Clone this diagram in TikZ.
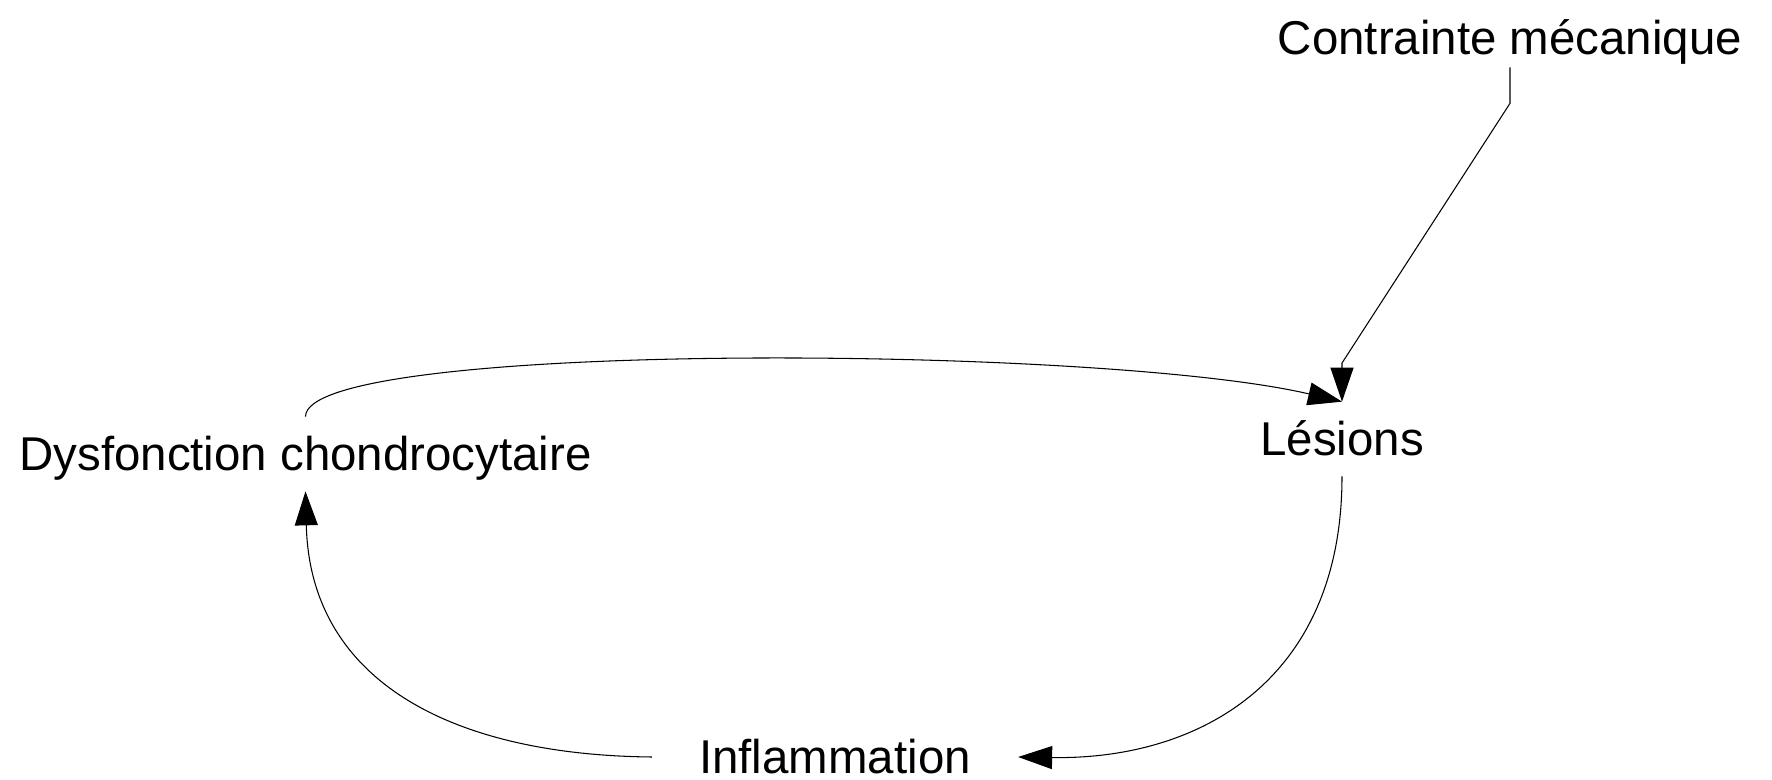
\documentclass[tikz,border=0pt]{standalone}
\usepackage{fontspec}
\setmainfont{Liberation Sans}
\usepackage{tikz}
\usetikzlibrary{arrows.meta}

\begin{document}
\begin{tikzpicture}[
    x=0.02cm, y=-0.02cm,
    stage/.style={inner xsep=0.94cm, inner ysep=0.4cm, text height=0.68cm, text depth=0pt, font=\fontsize{27}{32}\selectfont},
    relation/.style={-{Triangle[length=0.68cm, width=0.46cm]}, line width=0.6pt}
]
\useasboundingbox (0,0) rectangle (1772,780);

% Stages
\node[stage, inner ysep=0.24cm] (contrainte) at (1510, 38) {Contrainte mécanique};
\node[stage] (lesions) at (1342, 439) {Lésions};
\node[stage] (dysfonction) at (305.5, 454) {Dysfonction chondrocytaire};
\node[stage, inner ysep=0pt] (inflammation) at (835, 757) {Inflammation};

% Relations
\draw[relation] (contrainte.south) -- ++(0,36) -- (1342,363) -- (lesions.north);
\draw[relation] (dysfonction.north) .. controls (305,340) and (1100,345) .. (lesions.north);
\draw[relation] (lesions.south) .. controls (1342,680) and (1200,760) .. (inflammation.east);
\draw[relation] (inflammation.west) .. controls (450,755) and (310,680) .. (dysfonction.south);

\end{tikzpicture}
\end{document}
